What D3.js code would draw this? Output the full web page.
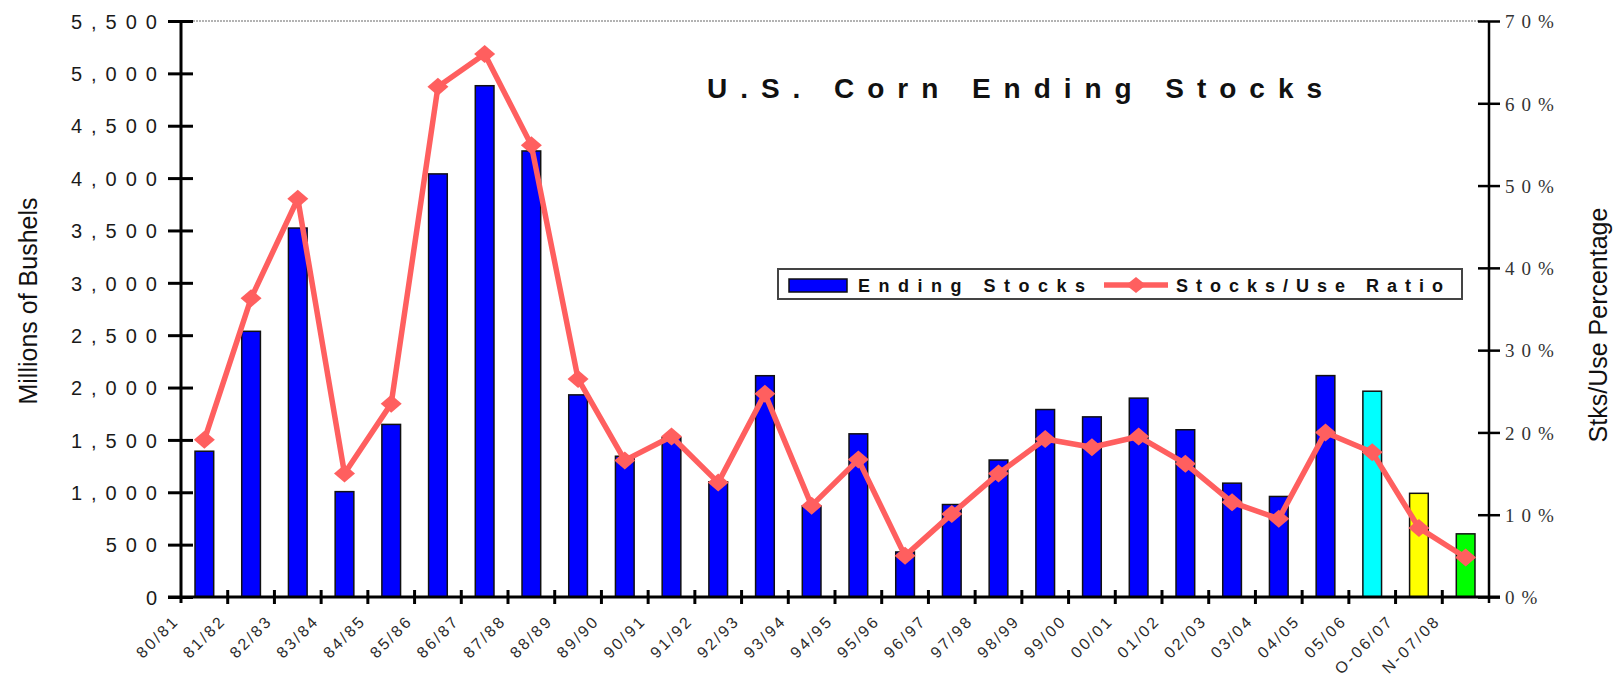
<!DOCTYPE html>
<html>
<head>
<meta charset="utf-8">
<script src="https://cdn.jsdelivr.net/npm/d3@7/dist/d3.min.js"></script>
<style>
  html, body { margin: 0; padding: 0; background: #fff; }
  svg { display: block; }
</style>
</head>
<body>
<svg id="chart" width="1620" height="681"></svg>
<script>
const categories = ["80/81","81/82","82/83","83/84","84/85","85/86","86/87","87/88","88/89","89/90",
  "90/91","91/92","92/93","93/94","94/95","95/96","96/97","97/98","98/99","99/00",
  "00/01","01/02","02/03","03/04","04/05","05/06","O-06/07","N-07/08"];
const endingStocks = [1392, 2537, 3523, 1006, 1648, 4040, 4882, 4259, 1930, 1344,
  1521, 1100, 2113, 870, 1558, 430, 883, 1308, 1790, 1720,
  1899, 1597, 1087, 960, 2114, 1965, 990, 603];
const stocksUsePct = [19.1, 36.3, 48.4, 15, 23.5, 62, 66, 54.9, 26.5, 16.6,
  19.5, 13.9, 24.7, 11.1, 16.7, 5, 10.1, 15, 19.2, 18.2,
  19.5, 16.2, 11.5, 9.5, 20, 17.6, 8.4, 4.8];
const barColors = ["#0000ff","#0000ff","#0000ff","#0000ff","#0000ff","#0000ff","#0000ff","#0000ff","#0000ff","#0000ff",
  "#0000ff","#0000ff","#0000ff","#0000ff","#0000ff","#0000ff","#0000ff","#0000ff","#0000ff","#0000ff",
  "#0000ff","#0000ff","#0000ff","#0000ff","#0000ff","#00ffff","#ffff00","#00ff00"];
const leftTicks = [0, 500, 1000, 1500, 2000, 2500, 3000, 3500, 4000, 4500, 5000, 5500];
const rightTicks = [0, 10, 20, 30, 40, 50, 60, 70];
const titleText = "U.S. Corn Ending Stocks";
const legendLabels = ["Ending Stocks", "Stocks/Use Ratio"];
const leftTitle = "Millions of Bushels";
const rightTitle = "Stks/Use Percentage";

const svg = d3.select("#chart");
const L = 181, R = 1489, T = 21, B = 597;
const lineColor = "#ff5f5f";

const x = d3.scaleBand().domain(categories).range([L, R]).paddingInner(0.6).paddingOuter(0.3);
const xEdge = d3.scaleLinear().domain([0, categories.length]).range([L, R]);
const yL = d3.scaleLinear().domain([0, 5500]).range([B, T]);
const yR = d3.scaleLinear().domain([0, 70]).range([B, T]);

// top gray border line
svg.append("line").attr("x1", L).attr("x2", R).attr("y1", T).attr("y2", T)
  .attr("stroke", "#9a9a9a").attr("stroke-width", 1.5).attr("stroke-dasharray", "2,1");

// bars
svg.append("g").selectAll("rect").data(endingStocks).join("rect")
  .attr("x", (d, i) => x(categories[i]))
  .attr("width", x.bandwidth())
  .attr("y", d => yL(d))
  .attr("height", d => B - yL(d))
  .attr("fill", (d, i) => barColors[i])
  .attr("stroke", "#111").attr("stroke-width", 1.5);

// left axis
const gL = svg.append("g").attr("transform", `translate(${L},0)`);
gL.call(d3.axisLeft(yL).tickValues(leftTicks).tickSize(0).tickFormat(""));
gL.select(".domain").remove();
gL.append("line").attr("x1", 0).attr("x2", 0).attr("y1", T).attr("y2", B + 6)
  .attr("stroke", "#000").attr("stroke-width", 3);
gL.selectAll(".tick").append("line").attr("x1", -13).attr("x2", 12)
  .attr("stroke", "#000").attr("stroke-width", 3);
gL.selectAll(".tick").append("text")
  .attr("x", -24 + 9).attr("dy", "0.36em")
  .attr("text-anchor", "end")
  .style("font-family", "Liberation Sans, Arial, sans-serif")
  .style("font-size", "20px").style("letter-spacing", "9px")
  .attr("fill", "#1a1a1a")
  .text(d => d3.format(",")(d));

// right axis
const gR = svg.append("g").attr("transform", `translate(${R},0)`);
gR.call(d3.axisRight(yR).tickValues(rightTicks).tickSize(0).tickFormat(""));
gR.select(".domain").remove();
gR.append("line").attr("x1", 0).attr("x2", 0).attr("y1", T).attr("y2", B + 6)
  .attr("stroke", "#000").attr("stroke-width", 2.5);
gR.selectAll(".tick").append("line").attr("x1", -11).attr("x2", 11)
  .attr("stroke", "#000").attr("stroke-width", 2.5);
gR.selectAll(".tick").append("text")
  .attr("x", 16).attr("dy", "0.36em")
  .attr("text-anchor", "start")
  .style("font-family", "Liberation Serif, Times New Roman, serif")
  .style("font-size", "19px").style("letter-spacing", "7px")
  .attr("fill", "#333")
  .text(d => d + "%");

// x axis
const gX = svg.append("g");
gX.append("line").attr("x1", L - 13).attr("x2", R + 11).attr("y1", B).attr("y2", B)
  .attr("stroke", "#000").attr("stroke-width", 3);
gX.selectAll("line.tk").data(d3.range(1, categories.length)).join("line").attr("class", "tk")
  .attr("x1", i => xEdge(i)).attr("x2", i => xEdge(i))
  .attr("y1", B - 7).attr("y2", B + 7)
  .attr("stroke", "#000").attr("stroke-width", 3);
gX.selectAll("text").data(categories).join("text")
  .attr("transform", (d, i) => `translate(${xEdge(i) - 1},${B + 25}) rotate(-45)`)
  .attr("text-anchor", "end")
  .style("font-family", "Liberation Sans, Arial, sans-serif")
  .style("font-size", "16px").style("letter-spacing", "2.5px")
  .attr("fill", "#2a2a2a")
  .text(d => d);

// line series
const lineGen = d3.line().x((d, i) => x(categories[i]) + x.bandwidth() / 2).y(d => yR(d));
svg.append("path").datum(stocksUsePct).attr("d", lineGen)
  .attr("fill", "none").attr("stroke", lineColor).attr("stroke-width", 5.5)
  .attr("stroke-linejoin", "round");
svg.append("g").selectAll("path").data(stocksUsePct).join("path")
  .attr("transform", (d, i) => `translate(${x(categories[i]) + x.bandwidth() / 2},${yR(d)})`)
  .attr("d", "M0,-9L10.5,0L0,9L-10.5,0Z")
  .attr("fill", lineColor);

// title
svg.append("text").attr("x", 707).attr("y", 98)
  .style("font-family", "Liberation Sans, Arial, sans-serif")
  .style("font-size", "28px").style("font-weight", "bold")
  .attr("textLength", 615).attr("lengthAdjust", "spacing")
  .attr("fill", "#111")
  .text(titleText);

// legend
const lg = svg.append("g");
lg.append("rect").attr("x", 778).attr("y", 269).attr("width", 684).attr("height", 30)
  .attr("fill", "#fff").attr("stroke", "#444").attr("stroke-width", 2);
lg.append("rect").attr("x", 789).attr("y", 279).attr("width", 58).attr("height", 13)
  .attr("fill", "#0000ff").attr("stroke", "#111").attr("stroke-width", 1.5);
lg.append("text").attr("x", 858).attr("y", 292)
  .style("font-family", "Liberation Sans, Arial, sans-serif")
  .style("font-size", "18px").style("font-weight", "bold")
  .attr("textLength", 227).attr("lengthAdjust", "spacing").attr("fill", "#111")
  .text(legendLabels[0]);
lg.append("line").attr("x1", 1104).attr("x2", 1168).attr("y1", 285).attr("y2", 285)
  .attr("stroke", lineColor).attr("stroke-width", 5.5);
lg.append("path").attr("transform", "translate(1136,285)")
  .attr("d", "M0,-8L10,0L0,8L-10,0Z").attr("fill", lineColor);
lg.append("text").attr("x", 1176).attr("y", 292)
  .style("font-family", "Liberation Sans, Arial, sans-serif")
  .style("font-size", "18px").style("font-weight", "bold")
  .attr("textLength", 267).attr("lengthAdjust", "spacing").attr("fill", "#111")
  .text(legendLabels[1]);

// axis titles
svg.append("text").attr("transform", "translate(37,301) rotate(-90)")
  .attr("text-anchor", "middle")
  .style("font-family", "Liberation Sans, Arial, sans-serif")
  .style("font-size", "25px").attr("fill", "#111")
  .text(leftTitle);
svg.append("text").attr("transform", "translate(1607,325) rotate(-90)")
  .attr("text-anchor", "middle")
  .style("font-family", "Liberation Sans, Arial, sans-serif")
  .style("font-size", "25px").attr("fill", "#111")
  .text(rightTitle);
</script>
</body>
</html>
